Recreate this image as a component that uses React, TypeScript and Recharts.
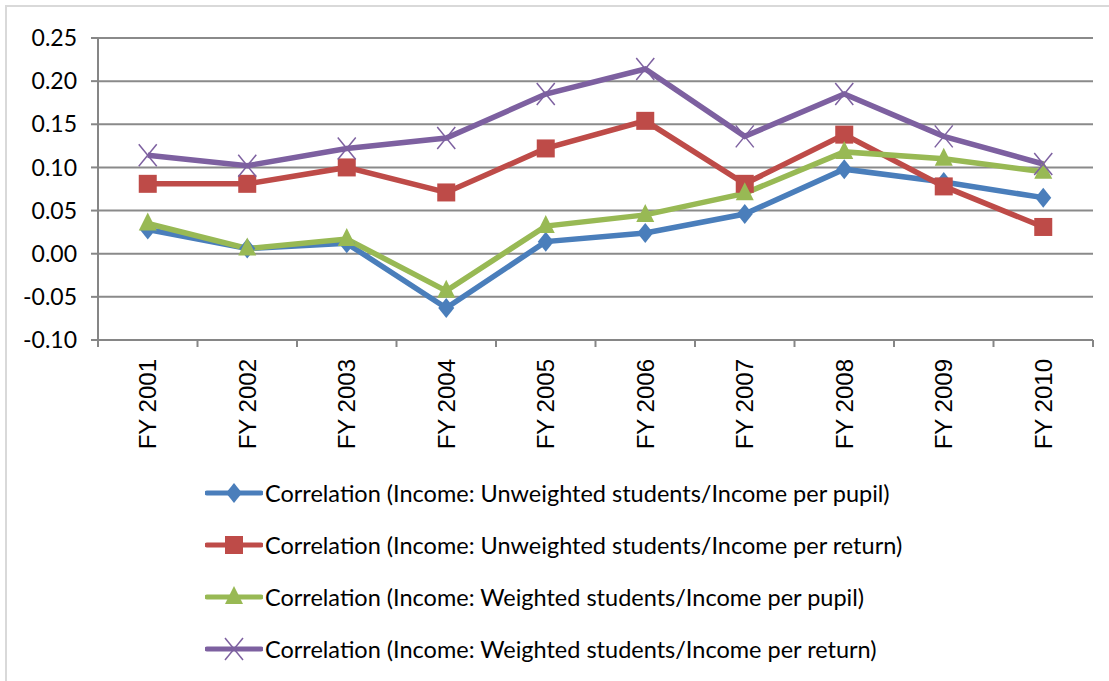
import { LineChart, Line, XAxis, YAxis, CartesianGrid, Legend } from "recharts";

const YEARS = ["FY 2001", "FY 2002", "FY 2003", "FY 2004", "FY 2005", "FY 2006", "FY 2007", "FY 2008", "FY 2009", "FY 2010"];
const UNWEIGHTED_PUPIL = [0.028, 0.006, 0.012, -0.063, 0.014, 0.024, 0.046, 0.098, 0.083, 0.065];
const UNWEIGHTED_RETURN = [0.081, 0.081, 0.1, 0.071, 0.122, 0.154, 0.081, 0.138, 0.078, 0.031];
const WEIGHTED_PUPIL = [0.035, 0.006, 0.017, -0.043, 0.032, 0.045, 0.07, 0.118, 0.11, 0.095];
const WEIGHTED_RETURN = [0.114, 0.102, 0.122, 0.134, 0.185, 0.214, 0.136, 0.185, 0.136, 0.104];
const Y_TICKS = [-0.1, -0.05, 0, 0.05, 0.1, 0.15, 0.2, 0.25];

const SERIES = [
  { key: "up", name: "Correlation (Income: Unweighted students/Income per pupil)", color: "#4a7ebb", shape: "diamond" },
  { key: "ur", name: "Correlation (Income: Unweighted students/Income per return)", color: "#be4b48", shape: "square" },
  { key: "wp", name: "Correlation (Income: Weighted students/Income per pupil)", color: "#98b954", shape: "triangle" },
  { key: "wr", name: "Correlation (Income: Weighted students/Income per return)", color: "#7d60a0", shape: "cross" },
];

const data = YEARS.map((y, i) => ({
  year: y,
  up: UNWEIGHTED_PUPIL[i],
  ur: UNWEIGHTED_RETURN[i],
  wp: WEIGHTED_PUPIL[i],
  wr: WEIGHTED_RETURN[i],
}));

const W = 1109;
const H = 681;
const M = { top: 38, right: 16, left: 0, bottom: 231 };
const Y_W = 98;
const BAND = (W - M.left - M.right - Y_W) / YEARS.length;
const FONT = "Lato, 'Open Sans', sans-serif";

function Marker({ cx, cy, shape, color }: { cx: number; cy: number; shape: string; color: string }) {
  if (cx == null || cy == null) return null;
  if (shape === "diamond")
    return <polygon points={`${cx},${cy - 10} ${cx + 8},${cy} ${cx},${cy + 10} ${cx - 8},${cy}`} fill={color} />;
  if (shape === "square") return <rect x={cx - 9} y={cy - 9} width={18} height={18} fill={color} />;
  if (shape === "triangle")
    return <polygon points={`${cx},${cy - 11} ${cx + 9},${cy + 7} ${cx - 9},${cy + 7}`} fill={color} />;
  return (
    <g stroke={color} strokeWidth={1.5}>
      <line x1={cx - 9} y1={cy - 11} x2={cx + 9} y2={cy + 11} />
      <line x1={cx - 9} y1={cy + 11} x2={cx + 9} y2={cy - 11} />
    </g>
  );
}

function YearTick({ x, y, payload, index }: any) {
  const last = index === YEARS.length - 1;
  return (
    <g>
      <line x1={x - BAND / 2} y1={y - 8} x2={x - BAND / 2} y2={y - 1} stroke="#868686" strokeWidth={2} />
      {last && <line x1={x + BAND / 2} y1={y - 8} x2={x + BAND / 2} y2={y - 1} stroke="#868686" strokeWidth={2} />}
      <text
        x={x}
        y={y + 11}
        transform={`rotate(-90, ${x}, ${y + 11})`}
        textAnchor="end"
        dy="0.35em"
        fontFamily="Liberation Sans, Arial, sans-serif"
        fontSize={24}
        fill="#000"
      >
        {payload.value}
      </text>
    </g>
  );
}

function LegendBox() {
  return (
    <div style={{ fontFamily: FONT, fontSize: 23.5, color: "#000" }}>
      {SERIES.map((s) => (
        <div key={s.key} style={{ display: "flex", alignItems: "center", height: 52 }}>
          <svg width={58} height={24} style={{ marginRight: 2 }}>
            <line x1={2} y1={12} x2={56} y2={12} stroke={s.color} strokeWidth={5} strokeLinecap="round" />
            <Marker cx={29} cy={12} shape={s.shape} color={s.color} />
          </svg>
          <span>{s.name}</span>
        </div>
      ))}
    </div>
  );
}

export default function App() {
  return (
    <div
      style={{
        position: "absolute",
        left: 0,
        top: 0,
        width: W,
        height: H,
        background: "white",
      }}
    >
      <div
        style={{
          position: "absolute",
          left: 5,
          top: 5,
          right: 0,
          bottom: 0,
          borderTop: "2px solid #d9d9d9",
          borderLeft: "2px solid #d9d9d9",
        }}
      />
      <LineChart width={W} height={H} data={data} margin={M}>
        <CartesianGrid vertical={false} stroke="#8a8a8a" strokeWidth={2} />
        <XAxis
          dataKey="year"
          interval={0}
          height={110}
          padding={{ left: BAND / 2, right: BAND / 2 }}
          axisLine={{ stroke: "#868686", strokeWidth: 2 }}
          tickLine={false}
          tick={<YearTick />}
        />
        <YAxis
          width={Y_W}
          domain={[-0.1, 0.25]}
          ticks={Y_TICKS}
          tickFormatter={(v: number) => v.toFixed(2)}
          axisLine={{ stroke: "#868686", strokeWidth: 2 }}
          tickLine={{ stroke: "#868686", strokeWidth: 2 }}
          tickSize={7}
          tickMargin={14}
          tick={{ fontFamily: FONT, fontSize: 23, fill: "#000" }}
        />
        <Legend
          layout="vertical"
          align="center"
          verticalAlign="middle"
          content={<LegendBox />}
          wrapperStyle={{ position: "absolute", left: 205, top: 467, width: 880 }}
        />
        {SERIES.map((s) => (
          <Line
            key={s.key}
            dataKey={s.key}
            name={s.name}
            stroke={s.color}
            strokeWidth={5.5}
            isAnimationActive={false}
            dot={(p: any) => <Marker key={`${s.key}-${p.index}`} cx={p.cx} cy={p.cy} shape={s.shape} color={s.color} />}
            activeDot={false}
          />
        ))}
      </LineChart>
    </div>
  );
}
